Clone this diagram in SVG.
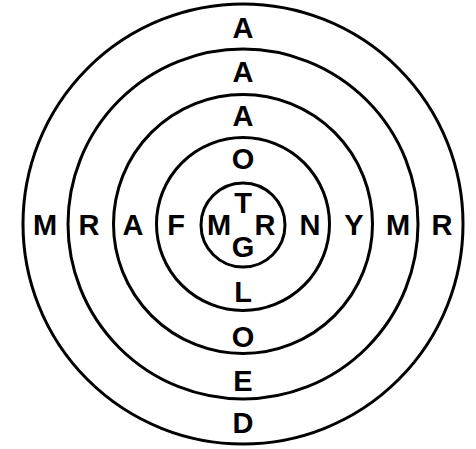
<svg xmlns="http://www.w3.org/2000/svg" width="476" height="449" viewBox="0 0 476 449">
<style>
.ring{fill:none;stroke:#000;stroke-width:3}
text{font-family:"Liberation Sans",Arial,sans-serif;font-weight:bold;font-size:29px;text-anchor:middle;fill:#000}
</style>
<rect width="476" height="449" fill="#fff"/>
<g id="rings">
<circle id="ring5" class="ring" cx="243" cy="224" r="220"/>
<circle id="ring4" class="ring" cx="243" cy="224" r="175"/>
<circle id="ring3" class="ring" cx="243" cy="224" r="129.5"/>
<circle id="ring2" class="ring" cx="243" cy="224" r="86.5"/>
<circle id="ring1" class="ring" cx="243" cy="225" r="42"/>
</g>
<g id="vertical">
<text x="243" y="38">A</text>
<text x="243" y="82">A</text>
<text x="243" y="126">A</text>
<text x="243" y="169">O</text>
<text x="243" y="213">T</text>
<text x="243" y="257">G</text>
<text x="243" y="302">L</text>
<text x="243" y="347">O</text>
<text x="243" y="391">E</text>
<text x="243" y="433">D</text>
</g>
<g id="horizontal">
<text x="45" y="235">M</text>
<text x="89" y="235">R</text>
<text x="133" y="235">A</text>
<text x="176" y="235">F</text>
<text x="219" y="235">M</text>
<text x="265" y="235">R</text>
<text x="310" y="235">N</text>
<text x="354" y="235">Y</text>
<text x="398" y="235">M</text>
<text x="442" y="235">R</text>
</g>
</svg>
